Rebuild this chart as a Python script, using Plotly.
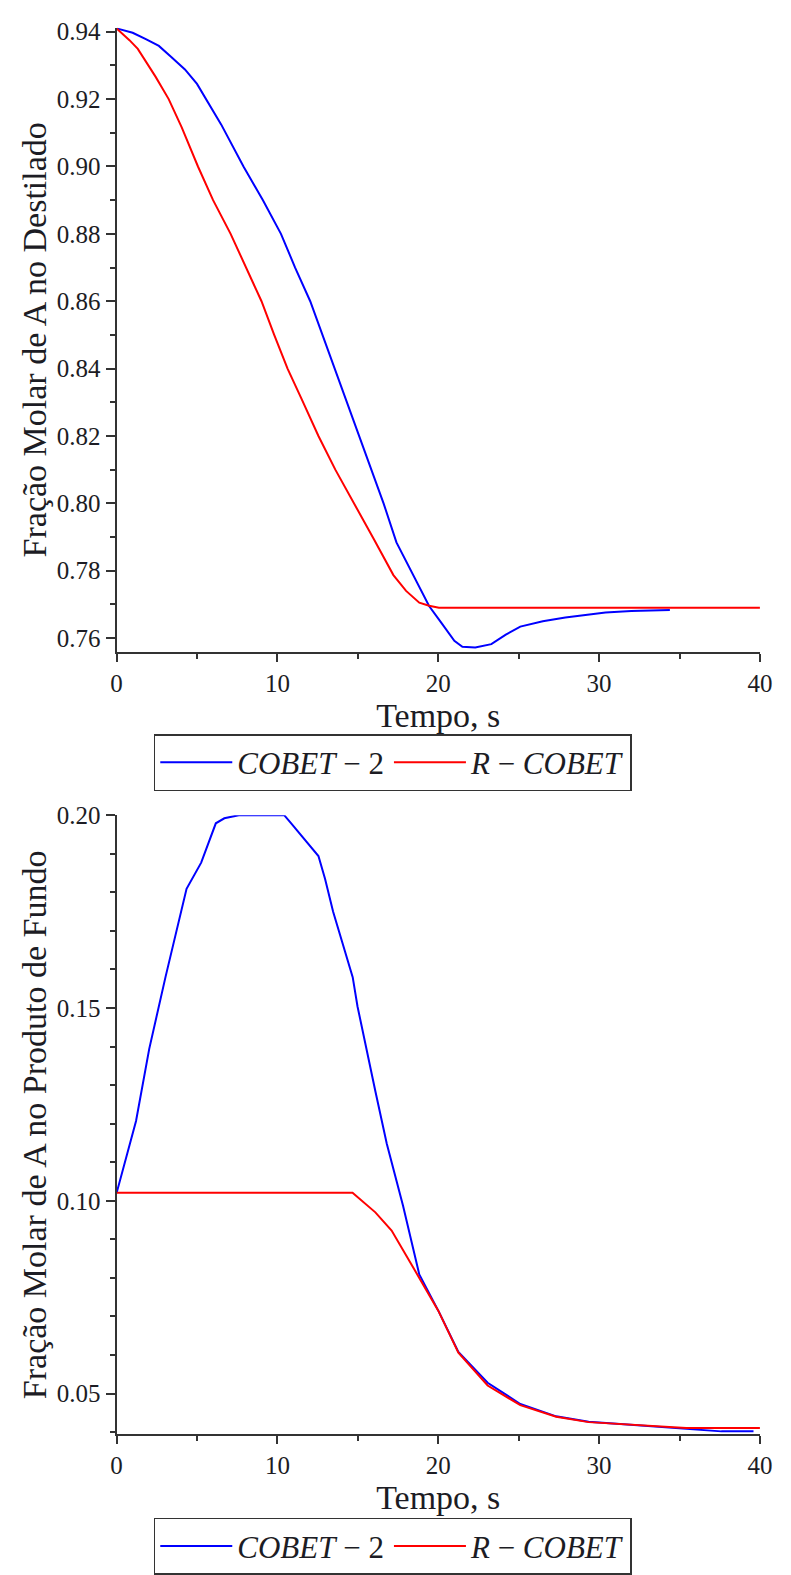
import plotly.graph_objects as go

# ---------------- data: top plot (distillate) ----------------
t_top_cobet2 = [0, 1.0, 1.82, 2.63, 3.4, 4.25, 5.0, 5.57, 6.5, 7.89, 9.1, 10.22, 11.1, 12.04,
                12.8, 13.54, 14.3, 15.08, 15.85, 16.6, 17.4, 18.42, 19.43, 20.24, 21.0, 21.5,
                22.3, 23.3, 24.2, 25.1, 26.5, 27.9, 29.0, 30.4, 32.0, 34.4]
x_top_cobet2 = [0.941, 0.9397, 0.9378, 0.9358, 0.9325, 0.9288, 0.9245, 0.920, 0.9125, 0.900,
                0.890, 0.880, 0.870, 0.860, 0.850, 0.840, 0.830, 0.820, 0.810, 0.800, 0.7884,
                0.7787, 0.7695, 0.7642, 0.7592, 0.7574, 0.7572, 0.7582, 0.7610, 0.7634, 0.7650,
                0.7661, 0.7668, 0.7676, 0.7680, 0.7683]

t_top_rcobet = [0, 0.8, 1.32, 2.43, 3.24, 4.05, 5.06, 6.0, 7.09, 8.0, 9.01, 9.8, 10.63, 11.5,
                12.55, 13.6, 14.78, 15.99, 17.21, 18.0, 18.82, 19.43, 20.04, 40]
x_top_rcobet = [0.941, 0.9375, 0.9349, 0.9266, 0.920, 0.9116, 0.900, 0.890, 0.880, 0.8705,
                0.860, 0.850, 0.840, 0.831, 0.820, 0.810, 0.800, 0.7894, 0.7787, 0.7740,
                0.7705, 0.7696, 0.769, 0.769]

# ---------------- data: bottom plot (bottom product) ----------------
t_bot_cobet2 = [0, 1.21, 2.03, 3.04, 4.35, 5.26, 6.17, 6.7, 7.6, 10.42, 10.83, 11.74, 12.55,
                12.96, 13.46, 14.68, 14.98, 16.09, 16.8, 17.81, 18.82, 20.04, 21.25, 23.07,
                25.1, 27.33, 29.35, 32.39, 35.42, 37.6, 39.6]
x_bot_cobet2 = [0.102, 0.1207, 0.1394, 0.158, 0.1809, 0.1877, 0.1979, 0.1992, 0.200, 0.200,
                0.198, 0.1936, 0.1894, 0.1835, 0.175, 0.158, 0.1504, 0.1284, 0.1148, 0.0987,
                0.0809, 0.0712, 0.0608, 0.0528, 0.0473, 0.0441, 0.0427, 0.0418, 0.0408,
                0.0402, 0.0402]

t_bot_rcobet = [0, 14.67, 16.09, 17.1, 18.82, 20.0, 21.25, 23.07, 25.1, 27.33, 29.35, 32.39,
                35.42, 40]
x_bot_rcobet = [0.1021, 0.1021, 0.097, 0.0923, 0.080, 0.0715, 0.0606, 0.0521, 0.047, 0.044,
                0.0426, 0.0418, 0.0411, 0.0411]

names = ["<i>COBET</i> \u2212 2", "<i>R</i> \u2212 <i>COBET</i>"]
colors = ["#0000ff", "#ff0000"]

FONT = "Liberation Serif, Times New Roman, serif"
TXT = "#1c1c24"
AX = "#333333"

W, H = 791, 1575
fig = go.Figure()

fig.add_trace(go.Scatter(x=t_top_cobet2, y=x_top_cobet2, mode="lines", name=names[0],
                         line=dict(color=colors[0], width=2), xaxis="x", yaxis="y", legend="legend"))
fig.add_trace(go.Scatter(x=t_top_rcobet, y=x_top_rcobet, mode="lines", name=names[1],
                         line=dict(color=colors[1], width=2), xaxis="x", yaxis="y", legend="legend"))
fig.add_trace(go.Scatter(x=t_bot_cobet2, y=x_bot_cobet2, mode="lines", name=names[0],
                         line=dict(color=colors[0], width=2), xaxis="x2", yaxis="y2", legend="legend2"))
fig.add_trace(go.Scatter(x=t_bot_rcobet, y=x_bot_rcobet, mode="lines", name=names[1],
                         line=dict(color=colors[1], width=2), xaxis="x2", yaxis="y2", legend="legend2"))

xdom = [113.3 / W, 772.5 / W]
ytop_dom = [1 - 651.7 / H, 1 - 15 / H]
ybot_dom = [1 - 1450 / H, 1 - 818.3 / H]

def xax(anchor):
    return dict(domain=xdom, anchor=anchor, range=[0, 40], dtick=10, tick0=0,
                showline=True, linecolor=AX, linewidth=2, mirror=False,
                ticks="outside", ticklen=8, tickwidth=2, tickcolor=AX,
                minor=dict(ticks="outside", dtick=5, ticklen=5, tickwidth=2, tickcolor=AX),
                showgrid=False, zeroline=False,
                tickfont=dict(family=FONT, size=25, color=TXT),
                title=dict(text="Tempo, s", font=dict(family=FONT, size=34, color=TXT), standoff=1))

def yax(anchor, dom, rng, dtick, mdtick, title):
    return dict(domain=dom, anchor=anchor, range=rng, dtick=dtick, tick0=0, tickformat=".2f",
                showline=True, linecolor=AX, linewidth=2, mirror=False,
                ticks="outside", ticklen=9, tickwidth=2, tickcolor=AX,
                minor=dict(ticks="outside", dtick=mdtick, ticklen=5, tickwidth=2, tickcolor=AX),
                showgrid=False, zeroline=False,
                tickfont=dict(family=FONT, size=25, color=TXT),
                title=dict(text=title, font=dict(family=FONT, size=34, color=TXT), standoff=0))

legend_common = dict(orientation="h", xanchor="center", x=0.501, yanchor="top",
                     bordercolor=AX, borderwidth=1.5, bgcolor="white",
                     font=dict(family=FONT, size=31, color=TXT), itemwidth=72,
                     tracegroupgap=0)

fig.update_layout(
    width=W, height=H,
    margin=dict(l=0, r=0, t=0, b=0),
    paper_bgcolor="white", plot_bgcolor="white",
    showlegend=True,
    xaxis=xax("y"),
    yaxis=yax("x", ytop_dom, [0.7559, 0.9412], 0.02, 0.01, "Fração Molar de A no Destilado"),
    xaxis2=xax("y2"),
    yaxis2=yax("x2", ybot_dom, [0.0394, 0.2], 0.05, 0.01, "Fração Molar de A no Produto de Fundo"),
    legend=dict(**legend_common, y=1 - 735.7 / H),
    legend2=dict(**legend_common, y=1 - 1535 / H),
)

fig.write_html("out.html")
